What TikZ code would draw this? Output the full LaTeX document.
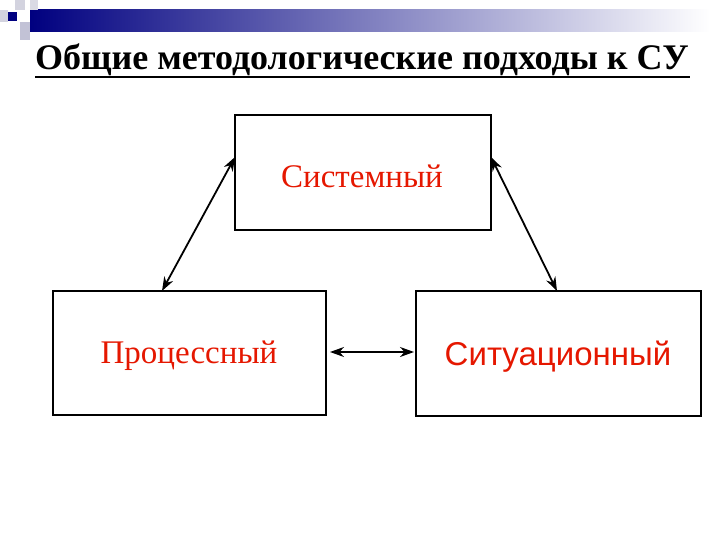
\documentclass[tikz,border=0pt]{standalone}
\usepackage{fontspec}
\setmainfont{Liberation Serif}
\newfontfamily\arialf{Liberation Sans}
\usetikzlibrary{arrows.meta}
\begin{document}
\begin{tikzpicture}[x=1pt,y=-1pt,
  box/.style={draw,line width=2pt,inner sep=0pt},
  lbl/.style={text=red!80!orange!90!black},
  conn/.style={line width=1.8pt,{Stealth[length=14pt,width=10pt]}-{Stealth[length=14pt,width=10pt]}}]
\useasboundingbox (0,0) rectangle (720,540);
\shade[left color=blue!50!black,right color=white] (30,10) rectangle (710,32);
\fill[blue!15!gray!30] (15,0) rectangle (25,10);
\fill[blue!15!gray!30] (0,10) rectangle (8,22);
\fill[blue!20!gray!40] (20,22) rectangle (30,40);
\fill[blue!15!gray!25] (30,0) rectangle (38,10);
\fill[blue!50!black] (8,12) rectangle (17,21);
\node[anchor=base west,inner sep=0pt] (title) at (35,70) {\fontsize{36}{38}\selectfont\bfseries\addfontfeature{FakeStretch=1.0}Общие методологические подходы к СУ};
\draw[line width=2pt] (35,77) -- (690,77);
\node[box,minimum width=256pt,minimum height=115pt] (s) at (363,172.5) {};
\node[box,minimum width=273pt,minimum height=124pt] (p) at (189.5,353) {};
\node[box,minimum width=285pt,minimum height=125pt] (c) at (558.5,353.5) {};
\node[lbl] (st) at (362,176) {\fontsize{33}{36}\selectfont Системный};
\node[lbl] (pt) at (189,356) {\fontsize{33}{36}\selectfont Процессный};
\node[lbl] (ct) at (558,357) {\fontsize{33}{36}\selectfont\arialf Ситуационный};
\coordinate (a1) at (235,157); \coordinate (a2) at (162,291);
\coordinate (b1) at (491,157); \coordinate (b2) at (557,291);
\coordinate (c1) at (330,352); \coordinate (c2) at (414,352);
\draw[conn] (a1) -- (a2);
\draw[conn] (b1) -- (b2);
\draw[conn] (c1) -- (c2);
\end{tikzpicture}
\end{document}
